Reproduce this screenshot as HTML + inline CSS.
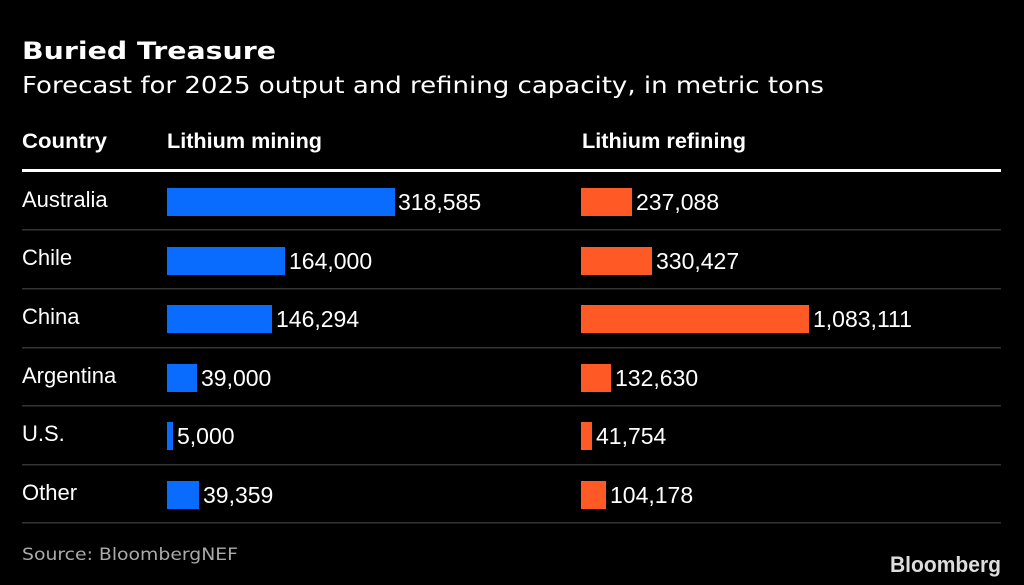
<!DOCTYPE html>
<html><head><meta charset="utf-8"><style>
html,body{margin:0;padding:0;background:#000;}
svg{display:block}
text{font-family:"Liberation Sans",Arial,sans-serif;fill:#fff}
.dv{font-family:"DejaVu Sans",sans-serif}
</style></head><body>
<svg width="1024" height="585" viewBox="0 0 1024 585">
<rect width="1024" height="585" fill="#000"/>
<text class="dv" x="22" y="59" font-size="24" font-weight="bold" textLength="254" lengthAdjust="spacingAndGlyphs">Buried Treasure</text>
<text class="dv" x="22" y="93" font-size="23" textLength="802" lengthAdjust="spacingAndGlyphs">Forecast for 2025 output and refining capacity, in metric tons</text>
<text x="22" y="148" font-size="21" font-weight="bold" textLength="85" lengthAdjust="spacingAndGlyphs">Country</text>
<text x="167" y="148" font-size="21" font-weight="bold" textLength="155" lengthAdjust="spacingAndGlyphs">Lithium mining</text>
<text x="582" y="148" font-size="21" font-weight="bold" textLength="164" lengthAdjust="spacingAndGlyphs">Lithium refining</text>
<rect x="22" y="169" width="979" height="3" fill="#fff"/>
<g fill="#333">
<rect x="22" y="229" width="979" height="1.5"/>
<rect x="22" y="288" width="979" height="1.5"/>
<rect x="22" y="347" width="979" height="1.5"/>
<rect x="22" y="405" width="979" height="1.5"/>
<rect x="22" y="464" width="979" height="1.5"/>
<rect x="22" y="522" width="979" height="1.5"/>
</g>
<g font-size="22">
<text x="22" y="207">Australia</text>
<text x="22" y="265">Chile</text>
<text x="22" y="324">China</text>
<text x="22" y="383">Argentina</text>
<text x="22" y="441">U.S.</text>
<text x="22" y="500">Other</text>
</g>
<g fill="#0a6cff">
<rect x="167" y="188" width="228" height="28"/>
<rect x="167" y="247" width="118" height="28"/>
<rect x="167" y="305" width="105" height="28"/>
<rect x="167" y="364" width="30" height="28"/>
<rect x="167" y="422" width="6" height="28"/>
<rect x="167" y="481" width="32" height="28"/>
</g>
<g fill="#ff5a26">
<rect x="581" y="188" width="51" height="28"/>
<rect x="581" y="247" width="71" height="28"/>
<rect x="581" y="305" width="228" height="28"/>
<rect x="581" y="364" width="30" height="28"/>
<rect x="581" y="422" width="11" height="28"/>
<rect x="581" y="481" width="25" height="28"/>
</g>
<g font-size="23">
<text x="398" y="210">318,585</text>
<text x="289" y="269">164,000</text>
<text x="276" y="327">146,294</text>
<text x="201" y="386">39,000</text>
<text x="177" y="444">5,000</text>
<text x="203" y="503">39,359</text>
<text x="636" y="210">237,088</text>
<text x="656" y="269">330,427</text>
<text x="813" y="327">1,083,111</text>
<text x="615" y="386">132,630</text>
<text x="596" y="444">41,754</text>
<text x="610" y="503">104,178</text>
</g>
<text class="dv" x="22" y="560" font-size="17" style="fill:#aaa" textLength="216" lengthAdjust="spacingAndGlyphs">Source: BloombergNEF</text>
<text x="1001" y="572" font-size="22" font-weight="bold" text-anchor="end" style="fill:#ddd" textLength="111" lengthAdjust="spacingAndGlyphs">Bloomberg</text>
</svg>
</body></html>
